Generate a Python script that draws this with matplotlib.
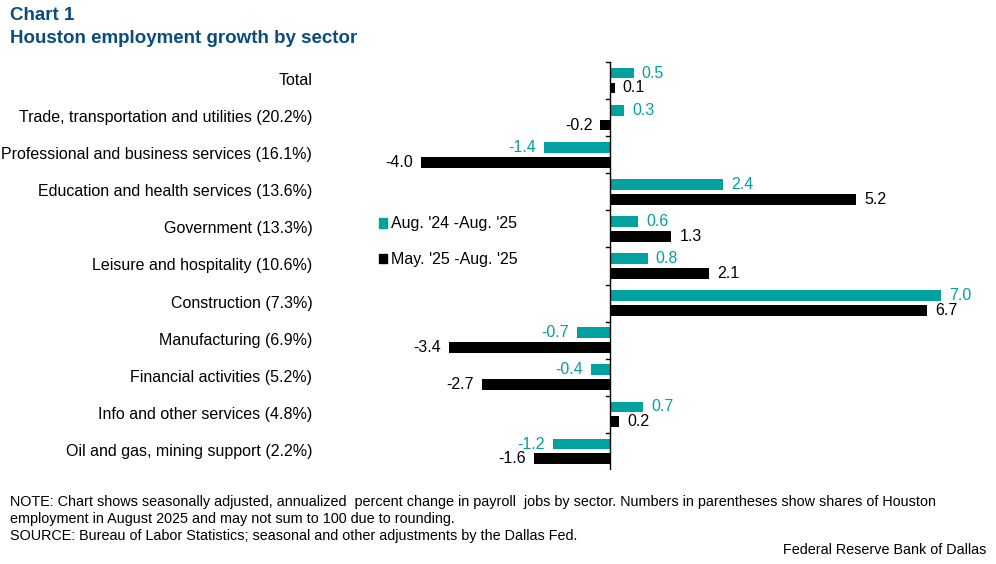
import matplotlib.pyplot as plt
import numpy as np
from matplotlib.patches import Patch

plt.rcParams["font.family"] = ["Liberation Sans", "DejaVu Sans"]

sectors = [
    "Total",
    "Trade, transportation and utilities (20.2%)",
    "Professional and business services (16.1%)",
    "Education and health services (13.6%)",
    "Government (13.3%)",
    "Leisure and hospitality (10.6%)",
    "Construction (7.3%)",
    "Manufacturing (6.9%)",
    "Financial activities (5.2%)",
    "Info and other services (4.8%)",
    "Oil and gas, mining support (2.2%)",
]
year_growth = [0.5, 0.3, -1.4, 2.4, 0.6, 0.8, 7.0, -0.7, -0.4, 0.7, -1.2]
quarter_growth = [0.1, -0.2, -4.0, 5.2, 1.3, 2.1, 6.7, -3.4, -2.7, 0.2, -1.6]
series_names = ["Aug. '24 -Aug. '25", "May. '25 -Aug. '25"]

TEAL = "#00A19F"
BLACK = "#000000"
NAVY = "#0B4C7F"

fig = plt.figure(figsize=(9.96, 5.64), dpi=100)
# zero line sits at x=610px; 1 unit ~ 47.3 px
ax = fig.add_axes([0.3749, 0.1667, 0.5937, 0.7234])

y = np.arange(len(sectors))
h = 0.29
ax.barh(y - 0.2, year_growth, height=h, color=TEAL)
ax.barh(y + 0.2, quarter_growth, height=h, color=BLACK)

for yi, v in zip(y, year_growth):
    off = 0.17 if v >= 0 else -0.17
    ax.text(v + off, yi - 0.2, f"{v:.1f}", color=TEAL, fontsize=11.5,
            va="center", ha="left" if v >= 0 else "right")
for yi, v in zip(y, quarter_growth):
    off = 0.17 if v >= 0 else -0.17
    ax.text(v + off, yi + 0.2, f"{v:.1f}", color=BLACK, fontsize=11.5,
            va="center", ha="left" if v >= 0 else "right")

ax.set_xlim(-5.0, 7.5)
ax.set_ylim(len(sectors) - 0.5, -0.5)
ax.axvline(0, color="black", lw=1)
ax.spines[["top", "right", "bottom", "left"]].set_visible(False)
ax.set_xticks([])
ax.set_yticks([])
# tick marks between categories on the zero line
for b in np.arange(-0.5, len(sectors) - 0.5, 1.0):
    ax.plot([-0.09, 0], [b, b], color="black", lw=1, clip_on=False)

for yi, name in zip(y, sectors):
    ax.annotate(name, xy=(0, yi), xycoords=("axes fraction", "data"),
                xytext=(-44, 0), textcoords="offset points",
                ha="right", va="center", fontsize=11.5)

handles = [Patch(color=TEAL), Patch(color=BLACK)]
ax.legend(handles, series_names, loc="upper left", bbox_to_anchor=(-0.002, 0.637),
          frameon=False, fontsize=11.5, handlelength=0.55, handleheight=0.55,
          handletextpad=0.25, labelspacing=1.3, borderaxespad=0)

fig.text(0.01, 0.988, "Chart 1", fontsize=13.5, fontweight="bold", color=NAVY,
         va="top")
fig.text(0.01, 0.947, "Houston employment growth by sector", fontsize=13.5,
         fontweight="bold", color=NAVY, va="top")

note = ("NOTE: Chart shows seasonally adjusted, annualized  percent change in payroll  jobs by sector. "
        "Numbers in parentheses show shares of Houston\n"
        "employment in August 2025 and may not sum to 100 due to rounding.\n"
        "SOURCE: Bureau of Labor Statistics; seasonal and other adjustments by the Dallas Fed.")
fig.text(0.01, 0.122, note, fontsize=10.4, va="top", linespacing=1.25)
fig.text(0.99, 0.012, "Federal Reserve Bank of Dallas", fontsize=10.4,
         ha="right", va="bottom")

fig.savefig("out.png", dpi=100)
